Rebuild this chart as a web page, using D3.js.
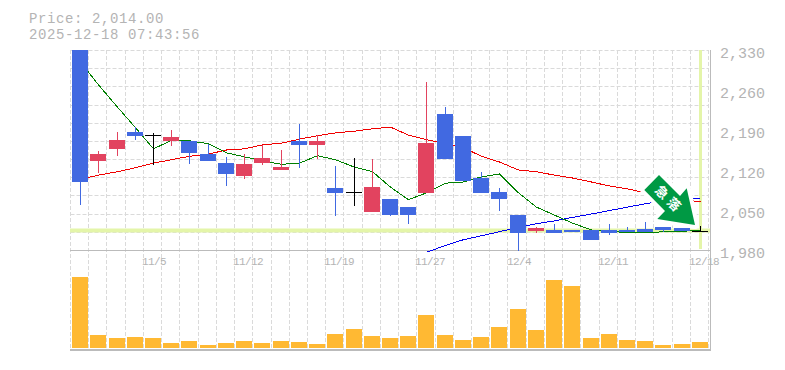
<!DOCTYPE html>
<html>
<head>
<meta charset="utf-8">
<script src="https://cdn.jsdelivr.net/npm/d3@7"></script>
<style>
  html, body { margin: 0; padding: 0; background: #fff; }
  text { font-family: "Liberation Mono", monospace; fill: #b4b4b4; }
</style>
</head>
<body>
<div id="chart"></div>
<script>
const dates = ["10/29","10/30","10/31","11/4","11/5","11/6","11/7","11/10","11/11","11/12","11/13","11/14","11/17","11/18","11/19","11/20","11/21","11/25","11/26","11/27","11/28","12/1","12/2","12/3","12/4","12/5","12/8","12/9","12/10","12/11","12/12","12/15","12/16","12/17","12/18"];

const opens  = [2400,2136,2157,2186,2181,2171,2171,2148,2132,2110,2132,2120,2171,2164,2088,2081,2046,2069,2055,2080,2218,2180,2106,2081,2041,2013,2015,2015,2015,2015,2015,2017,2020,2019,2014];
const closes = [2099,2148,2172,2180,2181,2178,2150,2136,2113,2130,2141,2125,2164,2171,2080,2081,2090,2041,2041,2167,2139,2101,2080,2069,2010,2019,2010,2011,1998,2010,2011,2012,2015,2013,2014];
const highs  = [2400,2153,2186,2195,2185,2190,2171,2166,2143,2148,2164,2155,2200,2181,2127,2141,2139,2069,2055,2274,2230,2180,2117,2088,2041,2020,2026,2015,2015,2026,2020,2029,2020,2019,2022];
const lows   = [2059,2115,2144,2172,2129,2162,2130,2136,2092,2104,2129,2120,2124,2139,2040,2057,2046,2040,2026,2080,2139,2101,2080,2048,1978,2010,2010,2011,1998,2006,2011,2012,2012,2013,2013];

const ma5  = [2309,2269,2230,2194,2157,2172,2171,2166,2150,2143,2136,2130,2132,2145,2138,2125,2117,2090,2068,2080,2097,2099,2108,2113,2080,2055,2041,2027,2015,2013,2010,2010,2012,2013,2014];
const ma25 = [2104,2111,2117,2124,2132,2138,2144,2148,2155,2157,2164,2167,2174,2180,2185,2188,2192,2195,2181,2173,2166,2159,2144,2134,2120,2117,2111,2106,2099,2092,2087,2080,2075,2069,2064];
const ma75 = [null,null,null,null,null,null,null,null,null,null,null,null,null,null,null,null,null,null,null,1976,1988,1998,2005,2012,2020,2026,2031,2037,2043,2049,2055,2061,2066,2068,2071];

const volumes = [71,13,10,11,10,5,7,3,5,7,5,7,6,4,14,19,12,10,12,33,13,8,11,21,39,18,68,62,10,14,8,7,3,4,6];

const priceTicks = [2330,2260,2190,2120,2050,1980];
const dateTicks = ["11/5","11/12","11/19","11/27","12/4","12/11","12/18"];
const lastPrice = 2014;
const headerLines = ["Price: 2,014.00", "2025-12-18 07:43:56"];

const width = 785, height = 370;
const left = 70.5, right = 708.5;
const gridColor = "#dadada", axisColor = "#bbb", hiliteColor = "#e4f5a9";
const blue = "#4169e1", red = "#e2435f", black = "#000";

const svg = d3.select("#chart").append("svg")
    .attr("width", width)
    .attr("height", height)
    .style("display", "block");

const x = d3.scaleBand().domain(dates).range([left, right]);
const y = d3.scaleLinear().domain([1980, 2330]).range([250, 50]);
const yVol = d3.scaleLinear().domain([0, 71]).range([348, 277]);
// left edge of a 16px bar, snapped to the pixel grid
const barX = d => Math.ceil(x(d) + x.bandwidth() / 2 - 8);
const cx = d => barX(d) + 8.5;

svg.append("defs").append("clipPath").attr("id", "top-clip")
  .append("rect").attr("x", 0).attr("y", 50).attr("width", width).attr("height", 320);

// grid
const vLines = dates.map(d => x(d)).concat([right]);
svg.append("g").selectAll("line").data(vLines).enter().append("line")
    .attr("x1", d => Math.floor(d) + 0.5).attr("x2", d => Math.floor(d) + 0.5)
    .attr("y1", 50).attr("y2", 350)
    .attr("stroke", gridColor).attr("stroke-dasharray", "4,2");

svg.append("g").selectAll("line").data(d3.range(0, 11)).enter().append("line")
    .attr("x1", left).attr("x2", right)
    .attr("y1", d => Math.round(50 + d * 200 / 11) + 0.5)
    .attr("y2", d => Math.round(50 + d * 200 / 11) + 0.5)
    .attr("stroke", gridColor).attr("stroke-dasharray", "4,2");

// current price cross
svg.append("line").attr("x1", left - 0.5).attr("x2", right + 2)
    .attr("y1", y(lastPrice)).attr("y2", y(lastPrice))
    .attr("stroke", hiliteColor).attr("stroke-width", 4);
svg.append("line").attr("x1", cx("12/18")).attr("x2", cx("12/18"))
    .attr("y1", 50).attr("y2", 249)
    .attr("stroke", hiliteColor).attr("stroke-width", 3);

// frame
svg.append("line").attr("x1", 70).attr("x2", 711).attr("y1", 250.5).attr("y2", 250.5)
    .attr("stroke", axisColor);
svg.append("line").attr("x1", 70).attr("x2", 711).attr("y1", 350).attr("y2", 350)
    .attr("stroke", axisColor).attr("stroke-width", 2);
svg.append("line").attr("x1", 710.5).attr("x2", 710.5).attr("y1", 50).attr("y2", 351)
    .attr("stroke", axisColor);

// volume
svg.append("g").selectAll("rect").data(volumes).enter().append("rect")
    .attr("x", (d, i) => barX(dates[i]))
    .attr("width", 16)
    .attr("y", d => yVol(d))
    .attr("height", d => yVol(0) - yVol(d))
    .attr("fill", "#ffb933")
    .attr("shape-rendering", "crispEdges");

// moving averages go under the candles
const line = d3.line()
    .defined(d => d.v !== null)
    .x(d => cx(d.d))
    .y(d => y(d.v));
const series = [[ma75, "#0000f0"], [ma25, "#f00000"], [ma5, "#008000"]];
series.forEach(s => {
    svg.append("path")
        .datum(s[0].map((v, i) => ({ d: dates[i], v: v })))
        .attr("d", line)
        .attr("fill", "none")
        .attr("stroke", s[1])
        .attr("stroke-width", 1)
        .attr("shape-rendering", "crispEdges")
        .attr("clip-path", "url(#top-clip)");
});

// arrow marker, with a white halo that cuts the lines behind it
const arrow = svg.append("g");
arrow.append("polygon")
    .attr("points", "659,175 680,196 686.7,188.3 695,225 657.3,219 665,211 644.3,190")
    .attr("fill", "#009944")
    .attr("stroke", "#fff")
    .attr("stroke-width", 8)
    .attr("stroke-linejoin", "round")
    .attr("paint-order", "stroke");
[["急", 662, 192], ["落", 674, 204]].forEach(g => {
    arrow.append("text")
        .attr("transform", "translate(" + g[1] + "," + g[2] + ") rotate(45)")
        .attr("text-anchor", "middle")
        .attr("dy", "0.38em")
        .style("font-family", "'Noto Sans CJK JP'")
        .style("font-weight", "bold")
        .style("font-size", "13px")
        .style("fill", "#fff")
        .text(g[0]);
});

// candles
const candleColor = (i) => closes[i] > opens[i] ? red : closes[i] < opens[i] ? blue : black;
const candles = svg.append("g").attr("clip-path", "url(#top-clip)").attr("shape-rendering", "crispEdges");

candles.selectAll("line.wick").data(dates).enter().append("line")
    .attr("class", "wick")
    .attr("x1", d => cx(d)).attr("x2", d => cx(d))
    .attr("y1", (d, i) => y(highs[i]))
    .attr("y2", (d, i) => y(lows[i]))
    .attr("stroke", (d, i) => candleColor(i))
    .attr("stroke-width", 1);

candles.selectAll("rect").data(dates).enter().append("rect")
    .attr("x", d => barX(d))
    .attr("width", 16)
    .attr("y", (d, i) => y(Math.max(opens[i], closes[i])))
    .attr("height", (d, i) => Math.max(y(Math.min(opens[i], closes[i])) - y(Math.max(opens[i], closes[i])), 1))
    .attr("fill", (d, i) => candleColor(i));

// axis labels
svg.append("g").selectAll("text").data(priceTicks).enter().append("text")
    .attr("x", 720)
    .attr("y", d => y(d) + 8)
    .style("font-size", "15px")
    .text(d => d3.format(",")(d));

svg.append("g").selectAll("text").data(dateTicks).enter().append("text")
    .attr("x", d => cx(d) - 11.5)
    .attr("y", 265)
    .style("font-size", "11px")
    .style("letter-spacing", "-0.6px")
    .text(d => d);

// header
svg.append("g").selectAll("text").data(headerLines).enter().append("text")
    .attr("x", 29)
    .attr("y", (d, i) => 22.5 + i * 16)
    .style("font-size", "14px")
    .style("letter-spacing", "0.6px")
    .text(d => d);
</script>
</body>
</html>
